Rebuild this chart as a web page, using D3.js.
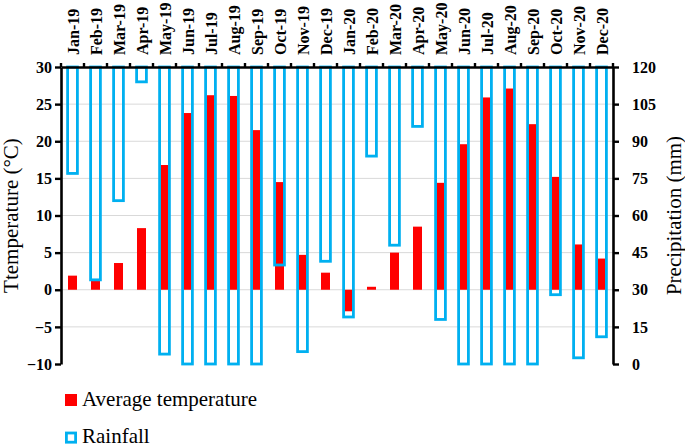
<!DOCTYPE html>
<html><head><meta charset="utf-8">
<script src="https://cdn.jsdelivr.net/npm/d3@7"></script>
<style>body{margin:0;background:#fff}svg{display:block}</style>
</head><body>
<svg id="c" width="685" height="448"></svg>
<script>
const months = ["Jan-19","Feb-19","Mar-19","Apr-19","May-19","Jun-19","Jul-19","Aug-19","Sep-19","Oct-19","Nov-19","Dec-19",
                "Jan-20","Feb-20","Mar-20","Apr-20","May-20","Jun-20","Jul-20","Aug-20","Sep-20","Oct-20","Nov-20","Dec-20"];
const temperature = [1.9,1.2,3.6,8.3,16.8,23.8,26.2,26.1,21.5,14.5,4.7,2.3,
                     -2.9,0.4,5.0,8.5,14.4,19.6,25.9,27.1,22.3,15.2,6.1,4.2];
// rainfall (mm) drawn as bars hanging from the top of the secondary axis
const rainfall = [43,86,54,6,116,120,120,120,120,80,115,78.5,
                  101,36,72,24,102,120,120,120,120,92,117.5,109];
const tempTicks = [-10,-5,0,5,10,15,20,25,30];
const precTicks = [0,15,30,45,60,75,90,105,120];

const svg = d3.select("#c");
const L = 61, R = 613, T = 67, B = 364;
const serif = "'Liberation Serif','Times New Roman',serif";

const x = d3.scaleBand().domain(months).range([L, R]).paddingInner(0).paddingOuter(0);
const yT = d3.scaleLinear().domain([-10, 30]).range([B, T]);
const yP = d3.scaleLinear().domain([0, 120]).range([B, T]);
const yPhang = d3.scaleLinear().domain([0, 120]).range([T, B]);

// gridlines
svg.append("g").selectAll("line").data(tempTicks.filter(d => d > -10 && d < 30)).join("line")
  .attr("x1", L).attr("x2", R).attr("y1", d => yT(d)).attr("y2", d => yT(d))
  .attr("stroke", "#d9d9d9").attr("stroke-width", 1);

const bw = x.bandwidth();
// temperature bars
svg.append("g").selectAll("rect").data(months).join("rect")
  .attr("x", d => x(d) + bw/2 - 4.5)
  .attr("width", 9)
  .attr("y", (d, i) => Math.min(yT(temperature[i]), yT(0)))
  .attr("height", (d, i) => Math.abs(yT(temperature[i]) - yT(0)))
  .attr("fill", "#ff0000");

// rainfall bars
svg.append("g").selectAll("rect").data(months).join("rect")
  .attr("x", d => x(d) + bw/2 - 4.9)
  .attr("width", 9.8)
  .attr("y", T)
  .attr("height", (d, i) => yPhang(rainfall[i]) - T)
  .attr("fill", "none")
  .attr("stroke", "#00b0f0").attr("stroke-width", 2.8);

// axes
const axisStyle = g => {
  g.select(".domain").attr("stroke", "#000").attr("stroke-width", 2.6);
  g.selectAll(".tick line").attr("stroke", "#000").attr("stroke-width", 2.4);
  g.selectAll("text").attr("font-family", serif).attr("font-weight", "bold").attr("font-size", 16).attr("fill", "#000");
};
svg.append("g").attr("transform", `translate(${L},0)`)
  .call(d3.axisLeft(yT).tickValues(tempTicks).tickSize(6).tickSizeOuter(0).tickPadding(3))
  .call(axisStyle);
svg.append("g").attr("transform", `translate(${R},0)`)
  .call(d3.axisRight(yP).tickValues(precTicks).tickSize(6).tickSizeOuter(0).tickPadding(13))
  .call(axisStyle);
const xa = svg.append("g").attr("transform", `translate(0,${T})`)
  .call(d3.axisTop(x).tickValues([]).tickSizeOuter(0))
  .call(axisStyle);
// boundary ticks on top axis
xa.selectAll(".bt").data(months.concat(["__end"])).join("line").attr("class", "bt")
  .attr("x1", (d, i) => i < months.length ? x(d) : R).attr("x2", (d, i) => i < months.length ? x(d) : R)
  .attr("y1", 0).attr("y2", -4).attr("stroke", "#000").attr("stroke-width", 2.4);
// month labels
svg.append("g").selectAll("text").data(months).join("text")
  .attr("transform", d => `translate(${x(d) + bw/2 + 6},55) rotate(-90)`)
  .attr("text-anchor", "start")
  .attr("font-family", serif).attr("font-weight", "bold").attr("font-size", 16)
  .text(d => d);

// axis titles
svg.append("text").attr("transform", `translate(18,${(T+B)/2}) rotate(-90)`)
  .attr("text-anchor", "middle").attr("font-family", serif).attr("font-size", 21).text("Ttemperature (°C)");
svg.append("text").attr("transform", `translate(681,${(T+B)/2}) rotate(-90)`)
  .attr("text-anchor", "middle").attr("font-family", serif).attr("font-size", 21).text("Precipitation (mm)");

// legend
const lg = svg.append("g");
lg.append("rect").attr("x", 65).attr("y", 394).attr("width", 12).attr("height", 12).attr("fill", "#ff0000");
lg.append("text").attr("x", 82).attr("y", 406).attr("font-family", serif).attr("font-size", 21).text("Average temperature");
lg.append("rect").attr("x", 66.4).attr("y", 433).attr("width", 9.2).attr("height", 9.2).attr("fill", "none")
  .attr("stroke", "#00b0f0").attr("stroke-width", 2.8);
lg.append("text").attr("x", 82).attr("y", 443).attr("font-family", serif).attr("font-size", 21).text("Rainfall");
</script>
</body></html>
